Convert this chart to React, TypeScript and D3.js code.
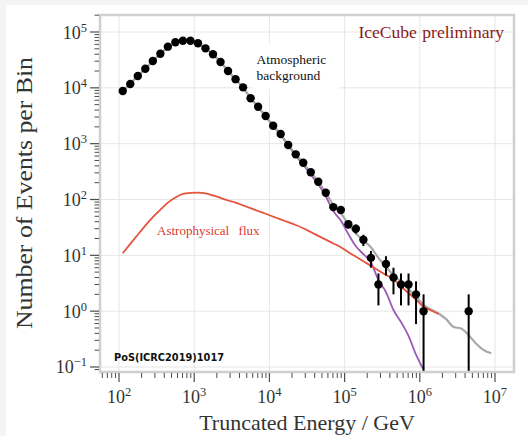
import React from 'react';
import * as d3 from 'd3';

// log10(E / GeV) of the bin centres used by the MC curves
const binLog10E = [
  2.05, 2.15, 2.25, 2.35, 2.45, 2.55, 2.65, 2.75, 2.85, 2.95,
  3.05, 3.15, 3.25, 3.35, 3.45, 3.55, 3.65, 3.75, 3.85, 3.95,
  4.05, 4.15, 4.25, 4.35, 4.45, 4.55, 4.65, 4.75, 4.85, 4.95,
  5.05, 5.15, 5.25, 5.35, 5.45, 5.55, 5.65, 5.75, 5.85, 5.95,
  6.05, 6.15, 6.25, 6.35, 6.45, 6.55, 6.65, 6.75, 6.85, 6.95,
];

// total expectation (grey)
const totalMC = [
  8770, 11900, 16300, 22100, 30200, 40700, 53700, 64600, 70000, 69200,
  63100, 51300, 39800, 29200, 20200, 14300, 10100, 6610, 4570, 3130,
  2110, 1480, 955, 646, 452, 305, 209, 132, 80, 57,
  36, 24.5, 18.5, 14, 9.0, 6.3, 4.4, 3.4, 2.5, 1.8,
  1.3, 1.07, 0.91, 0.72, 0.52, 0.49, 0.37, 0.26, 0.2, 0.176,
];

// atmospheric background (purple)
const atmospheric = [
  8760, 11880, 16280, 22070, 30150, 40630, 53610, 64490, 69870, 69070,
  62970, 51170, 39680, 29090, 20100, 14210, 10020, 6540, 4510, 3075,
  2060, 1436, 916, 611, 421, 280, 187, 113, 62, 42,
  24, 14.5, 10.5, 7.5, 3.6, 2.2, 1.05, 0.64, 0.36, 0.166,
  0.089,
];

// astrophysical flux (red)
const astrophysical = [
  10.9, 16.0, 23.4, 34.0, 48.2, 65.6, 87.9, 108.7, 126, 131,
  133, 129, 118, 107, 96, 88, 78.4, 69.8, 62.2, 55.5,
  49.4, 43.9, 39.2, 34.9, 30.5, 26.1, 22.3, 19.1, 16.3, 14.0,
  11.4, 9.44, 7.82, 6.49, 5.37, 4.46, 3.71, 2.77, 2.11, 1.6,
  1.2, 1.03, 0.89,
];

// observed data
const dataLog10E = [
  2.05, 2.15, 2.25, 2.35, 2.45, 2.55, 2.65, 2.75, 2.85, 2.95,
  3.05, 3.15, 3.25, 3.35, 3.45, 3.55, 3.65, 3.75, 3.85, 3.95,
  4.05, 4.15, 4.25, 4.35, 4.45, 4.55, 4.65, 4.75, 4.85, 4.95,
  5.05, 5.15, 5.25, 5.35, 5.45, 5.55, 5.65, 5.75, 5.85, 5.95,
  6.05, 6.65,
];
const dataCounts = [
  8770, 11700, 16300, 22000, 30300, 40800, 54600, 65500, 69800, 69800,
  62800, 51000, 39900, 29000, 20000, 14300, 10200, 6490, 4590, 3130,
  2100, 1490, 946, 644, 456, 307, 208, 132, 73, 65,
  36, 30, 19, 9, 3, 7, 4, 3, 3, 2,
  1, 1,
];

const xTickExps = [2, 3, 4, 5, 6, 7];
const yTickExps = [-1, 0, 1, 2, 3, 4, 5];
const yTickLabels = ['\u22121', '0', '1', '2', '3', '4', '5'];

const SERIF = '"Liberation Serif", "Times New Roman", serif';

export default function App() {
  const W = 528, H = 436;
  const L = 100, R = 514, T = 15, B = 372;
  const x = d3.scaleLog().domain([10 ** 1.7473, 10 ** 7.2527]).range([L, R]);
  const y = d3.scaleLog().domain([10 ** -1.0896, 10 ** 5.3045]).range([B, T]);

  const mkLine = (vals: number[]) =>
    d3.line<number>()
      .x((_, i) => x(10 ** binLog10E[i]))
      .y((v) => y(v))
      .curve(d3.curveMonotoneX)(vals) || '';

  const [xd0, xd1] = x.domain();
  const [yd0, yd1] = y.domain();
  const xMinor: number[] = [];
  for (let k = 1; k <= 7; k++) for (let m = 2; m <= 9; m++) {
    const v = m * 10 ** k;
    if (v >= xd0 && v <= xd1) xMinor.push(v);
  }
  const yMinor: number[] = [];
  for (let k = -2; k <= 5; k++) for (let m = 2; m <= 9; m++) {
    const v = m * 10 ** k;
    if (v >= yd0 && v <= yd1) yMinor.push(v);
  }

  const tickColor = '#4d4d4d';
  const gridColor = '#e6e6e6';

  return (
    <svg width={W} height={H} style={{ position: 'absolute', left: 0, top: 0 }}>
      <defs>
        <clipPath id="plotclip">
          <rect x={L} y={T} width={R - L} height={B - T} />
        </clipPath>
      </defs>
      <rect x={0} y={0} width={W} height={H} fill="#f4f4f4" />
      <rect x={6} y={5} width={W - 6} height={H - 5} fill="#ffffff" />

      {/* grid */}
      {xTickExps.map((e) => (
        <line key={'gx' + e} x1={x(10 ** e)} x2={x(10 ** e)} y1={T} y2={B} stroke={gridColor} strokeWidth={1} />
      ))}
      {yTickExps.map((e) => (
        <line key={'gy' + e} x1={L} x2={R} y1={y(10 ** e)} y2={y(10 ** e)} stroke={gridColor} strokeWidth={1} />
      ))}

      {/* label box */}
      <rect x={253} y={44} width={86} height={45} fill="#ffffff" />
      <text x={256.5} y={64} fontFamily={SERIF} fontSize={13.5} fill="#111">Atmospheric</text>
      <text x={256.5} y={80} fontFamily={SERIF} fontSize={13.5} fill="#111">background</text>

      <g clipPath="url(#plotclip)">
        <path d={mkLine(atmospheric)} fill="none" stroke="#9b59b6" strokeWidth={1.8} />
        <path d={mkLine(totalMC)} fill="none" stroke="#a8a8a8" strokeWidth={2.2} />
        <path d={mkLine(astrophysical)} fill="none" stroke="#e5533c" strokeWidth={1.8} />
        {dataCounts.map((n, i) => {
          const cx = x(10 ** dataLog10E[i]);
          const s = Math.sqrt(n);
          const lo = n - s;
          return (
            <line key={'eb' + i} x1={cx} x2={cx} y1={y(n + s)} y2={lo > 0 ? y(lo) : B} stroke="#000" strokeWidth={2} />
          );
        })}
        {dataCounts.map((n, i) => (
          <circle key={'pt' + i} cx={x(10 ** dataLog10E[i])} cy={y(n)} r={4.2} fill="#000" />
        ))}
      </g>

      {/* frame */}
      <rect x={L} y={T} width={R - L} height={B - T} fill="none" stroke="#cfcfcf" strokeWidth={2.5} />

      {/* x ticks */}
      {xTickExps.map((e) => (
        <line key={'xt' + e} x1={x(10 ** e)} x2={x(10 ** e)} y1={B + 1} y2={B + 10} stroke={tickColor} strokeWidth={1.2} />
      ))}
      {xMinor.map((v, i) => (
        <line key={'xm' + i} x1={x(v)} x2={x(v)} y1={B + 1} y2={B + 6} stroke={tickColor} strokeWidth={1} />
      ))}
      {xTickExps.map((e) => (
        <text key={'xl' + e} x={x(10 ** e)} y={403} textAnchor="middle" fontFamily={SERIF} fill="#333">
          <tspan fontSize={18}>10</tspan>
          <tspan fontSize={12.5} dy={-7}>{String(e)}</tspan>
        </text>
      ))}

      {/* y ticks */}
      {yTickExps.map((e) => (
        <line key={'yt' + e} x1={L - 1} x2={L - 10} y1={y(10 ** e)} y2={y(10 ** e)} stroke={tickColor} strokeWidth={1.2} />
      ))}
      {yMinor.map((v, i) => (
        <line key={'ym' + i} x1={L - 1} x2={L - 5.5} y1={y(v)} y2={y(v)} stroke={tickColor} strokeWidth={1} />
      ))}
      {yTickExps.map((e, i) => (
        <text key={'yl' + e} x={87} y={y(10 ** e) + 6.5} textAnchor="end" fontFamily={SERIF} fill="#333">
          <tspan fontSize={18}>10</tspan>
          <tspan fontSize={12.5} dy={-7}>{yTickLabels[i]}</tspan>
        </text>
      ))}

      {/* annotations */}
      <text x={358.5} y={37.5} fontFamily={SERIF} fontSize={17.5} fill="#8b1a1a">IceCube</text>
      <text x={504} y={37.5} textAnchor="end" fontFamily={SERIF} fontSize={17.5} fill="#8b1a1a">preliminary</text>
      <text x={157} y={235} fontFamily={SERIF} fontSize={13} fill="#d63a2e">Astrophysical</text>
      <text x={259.5} y={235} textAnchor="end" fontFamily={SERIF} fontSize={13} fill="#d63a2e">flux</text>
      <text x={114} y={361} fontFamily='"DejaVu Sans", sans-serif' fontWeight="bold" fontSize={9.8} fill="#111">PoS(ICRC2019)1017</text>

      {/* axis titles */}
      <text x={307} y={430} textAnchor="middle" fontFamily={SERIF} fontSize={22} fill="#333">Truncated Energy / GeV</text>
      <text transform="translate(32,193) rotate(-90)" textAnchor="middle" fontFamily={SERIF} fontSize={24} fill="#333"
        textLength={272} lengthAdjust="spacingAndGlyphs">Number of Events per Bin</text>
    </svg>
  );
}
